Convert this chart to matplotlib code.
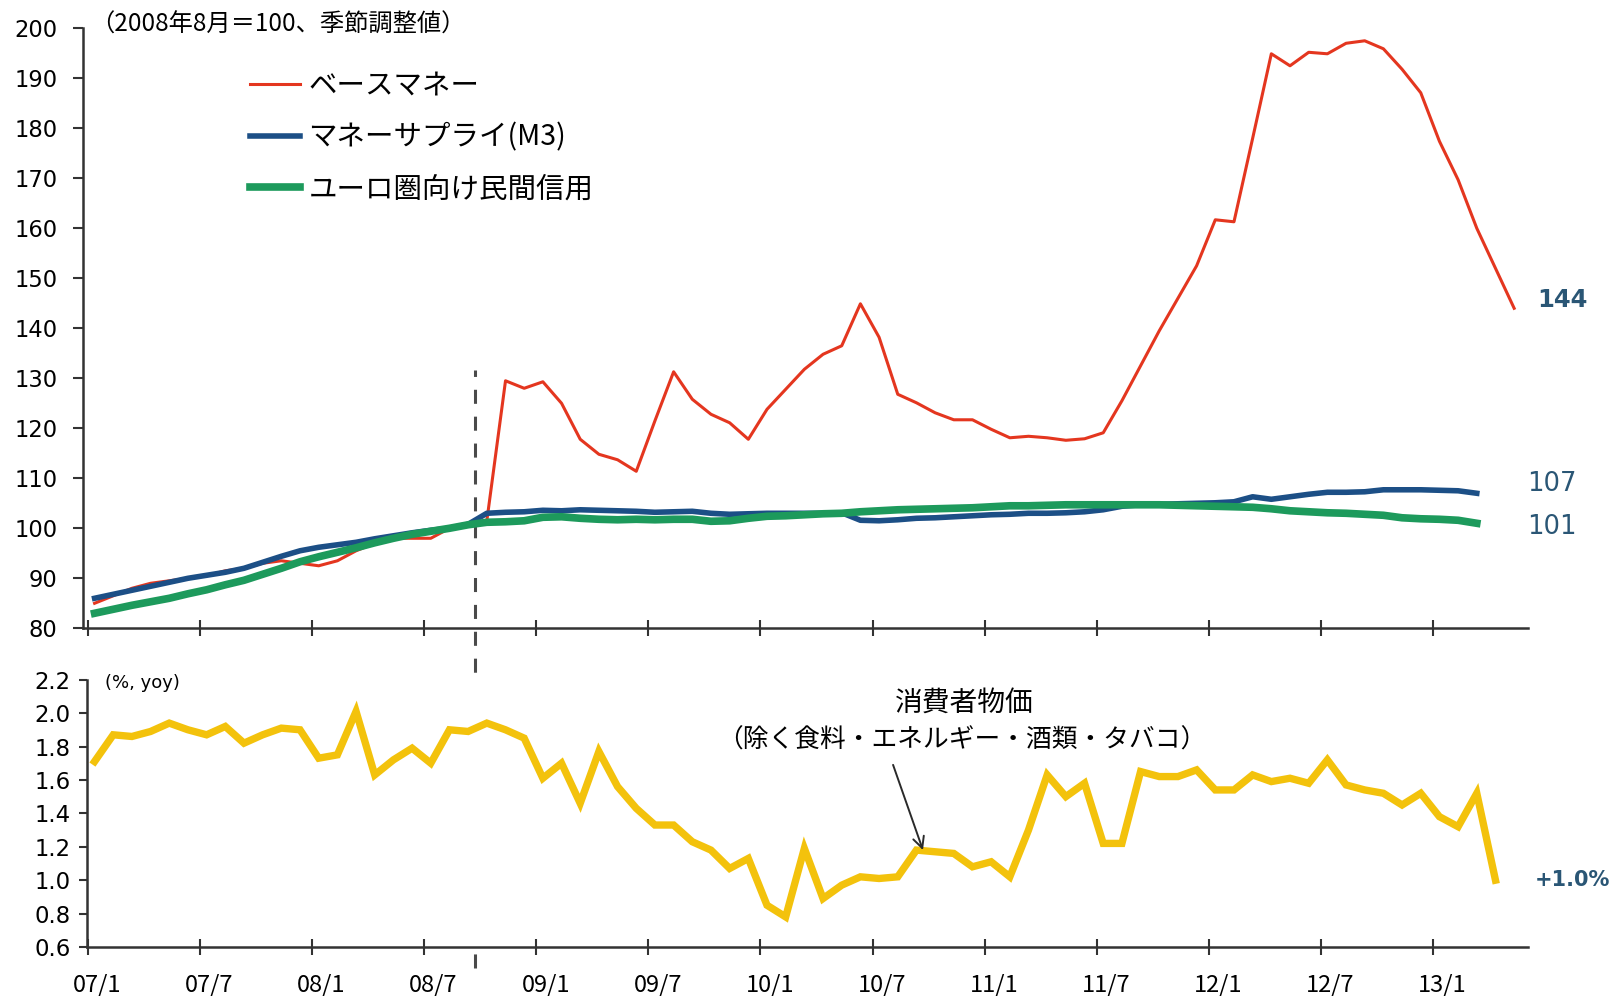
import numpy as np
import matplotlib.pyplot as plt
from matplotlib.ticker import FormatStrFormatter

plt.rcParams["font.family"] = ["DejaVu Sans"]
JP = ["Noto Sans CJK JP", "DejaVu Sans"]

# monthly series from 2007/1 (2008/8 = 100, seasonally adjusted)
base_money = [85, 86.5, 88, 89, 89.5, 90, 90.5, 91.5, 92, 93,
              93.5, 93, 92.5, 93.5, 95.5, 97, 98, 98, 98, 100,
              101, 101.5, 129.5, 128, 129.3, 125, 117.8, 114.8, 113.7, 111.4,
              121.5, 131.3, 125.8, 122.8, 121.1, 117.8, 123.8, 127.8, 131.8, 134.8,
              136.5, 144.9, 138.2, 126.8, 125.1, 123.1, 121.7, 121.7, 119.8, 118.1,
              118.4, 118.1, 117.6, 117.9, 119.1, 125.5, 132.5, 139.5, 146, 152.5,
              161.7, 161.3, 178, 194.9, 192.5, 195.2, 194.9, 197, 197.5, 195.9,
              191.8, 187.1, 177.4, 169.7, 160, 152, 144]
m3 = [86, 86.8, 87.6, 88.4, 89.2, 90, 90.6, 91.2, 92, 93.2,
      94.4, 95.5, 96.2, 96.7, 97.2, 97.9, 98.5, 99.1, 99.6, 100,
      100.8, 103, 103.2, 103.3, 103.6, 103.5, 103.7, 103.6, 103.5, 103.4,
      103.2, 103.3, 103.4, 103, 102.8, 102.9, 103, 103, 103, 103,
      103.1, 101.6, 101.5, 101.7, 102, 102.1, 102.3, 102.5, 102.7, 102.8,
      103, 103, 103.1, 103.3, 103.7, 104.4, 104.7, 104.8, 104.9, 105,
      105.1, 105.3, 106.3, 105.8, 106.3, 106.8, 107.2, 107.2, 107.3, 107.7,
      107.7, 107.7, 107.6, 107.5, 107]
private_credit = [83, 83.8, 84.6, 85.3, 86, 86.9, 87.7, 88.7, 89.6, 90.8,
                  92, 93.3, 94.3, 95.2, 96.1, 97.1, 98, 98.8, 99.4, 100,
                  100.7, 101.2, 101.3, 101.5, 102.2, 102.3, 102, 101.8, 101.7, 101.8,
                  101.7, 101.8, 101.8, 101.4, 101.5, 102, 102.4, 102.5, 102.7, 102.9,
                  103, 103.3, 103.5, 103.7, 103.8, 103.9, 104, 104.1, 104.3, 104.5,
                  104.5, 104.6, 104.7, 104.7, 104.7, 104.7, 104.7, 104.7, 104.6, 104.5,
                  104.4, 104.3, 104.2, 103.9, 103.5, 103.3, 103.1, 103, 102.8, 102.6,
                  102.1, 101.9, 101.8, 101.6, 101]
# core HICP, % yoy
core_cpi = [1.71, 1.87, 1.86, 1.89, 1.94, 1.90, 1.87, 1.92, 1.82, 1.87,
            1.91, 1.90, 1.73, 1.75, 2.01, 1.63, 1.72, 1.79, 1.70, 1.90,
            1.89, 1.94, 1.90, 1.85, 1.61, 1.70, 1.46, 1.77, 1.56, 1.43,
            1.33, 1.33, 1.23, 1.18, 1.07, 1.13, 0.85, 0.78, 1.19, 0.89,
            0.97, 1.02, 1.01, 1.02, 1.18, 1.17, 1.16, 1.08, 1.11, 1.02,
            1.30, 1.63, 1.50, 1.58, 1.22, 1.22, 1.65, 1.62, 1.62, 1.66,
            1.54, 1.54, 1.63, 1.59, 1.61, 1.58, 1.72, 1.57, 1.54, 1.52,
            1.45, 1.52, 1.38, 1.32, 1.52, 1.00]

tick_labels = ["07/1", "07/7", "08/1", "08/7", "09/1", "09/7", "10/1",
               "10/7", "11/1", "11/7", "12/1", "12/7", "13/1"]
names = ["ベースマネー", "マネーサプライ(M3)", "ユーロ圏向け民間信用"]
end_labels = ["144", "107", "101"]

RED, BLUE, GREEN, YELLOW = "#e4361f", "#1c4f86", "#1d9a5c", "#f3c20c"
LABEL_C = "#2a5675"
AXC = "#333333"


def months(vals):
    # points sit a little inside each month
    return np.arange(len(vals)) + 0.35


fig = plt.figure(figsize=(16.14, 9.96), dpi=100)
ax1 = fig.add_axes([0.0512, 0.3692, 0.8955, 0.6024])
ax2 = fig.add_axes([0.0539, 0.0492, 0.8928, 0.2684])

ax1.plot(months(base_money), base_money, color=RED, lw=2.2, zorder=2, label=names[0])
ax1.plot(months(m3), m3, color=BLUE, lw=4, zorder=3, label=names[1])
ax1.plot(months(private_credit), private_credit, color=GREEN, lw=5.5, zorder=4,
         label=names[2])

ax1.set_xlim(-0.29, 77.09)
ax1.set_ylim(80, 200)
ax1.set_yticks(range(80, 201, 10))
ax1.set_xticks(range(0, 73, 6))
ax1.set_xticklabels([])
ax1.tick_params(axis="x", direction="inout", length=12, width=1.5, color=AXC)
ax1.tick_params(axis="y", direction="out", length=7, width=1.5, color=AXC,
                labelsize=16.3, pad=11)

leg = ax1.legend(loc="upper left", bbox_to_anchor=(0.1158, 0.929), frameon=False,
                 prop={"family": JP, "size": 20.5}, handlelength=1.75,
                 handletextpad=0.3, labelspacing=0.76, borderpad=0,
                 borderaxespad=0)

ax1.text(0.005, 1.006, "（2008年8月＝100、季節調整値）", transform=ax1.transAxes,
         family=JP, fontsize=17.5, va="center", ha="left")

# end-of-series values
ax1.text(months(base_money)[-1] + 1.25, base_money[-1] + 1.6, end_labels[0],
         color=LABEL_C, fontsize=17.5, fontweight="bold", va="center")
ax1.text(77.06, m3[-1] + 1.9, end_labels[1], color=LABEL_C, fontsize=18.5, va="center")
ax1.text(77.06, private_credit[-1] - 0.7, end_labels[2], color=LABEL_C,
         fontsize=18.5, va="center")

# Lehman line, running across both panels
ax1.axvline(20.7, ymin=-0.566, ymax=0.43, clip_on=False, color="#4a4a4a", lw=2.2,
            ls=(0, (4.6, 4.2)), zorder=1)

ax2.plot(months(core_cpi), core_cpi, color=YELLOW, lw=5.3, solid_joinstyle="miter")
ax2.set_xlim(-0.054, 77.09)
ax2.set_ylim(0.6, 2.2)
ax2.set_yticks(np.arange(0.6, 2.21, 0.2))
ax2.yaxis.set_major_formatter(FormatStrFormatter("%.1f"))
ax2.set_xticks(range(0, 73, 6))
ax2.set_xticklabels([])
ax2.set_xticks(np.arange(0, 73, 6) + 0.5, minor=True)
ax2.set_xticklabels(tick_labels, minor=True, family=JP, fontsize=17)
ax2.tick_params(axis="x", which="major", direction="inout", length=11, width=1.5,
                color=AXC)
ax2.tick_params(axis="x", which="minor", length=0, pad=19)
ax2.tick_params(axis="y", direction="out", length=6, width=1.5, color=AXC,
                labelsize=16.4, pad=6)

ax2.text(0.0125, 0.988, "(%, yoy)", transform=ax2.transAxes, fontsize=13,
         va="center", ha="left")
ax2.text(46.9, 2.06, "消費者物価", family=JP, fontsize=20, ha="center", va="center")
ax2.text(46.8, 1.836, "（除く食料・エネルギー・酒類・タバコ）", family=JP, fontsize=18.5,
         ha="center", va="center")
ax2.annotate("", xy=(months(core_cpi)[44] + 0.35, core_cpi[44]), xytext=(43.1, 1.69),
             arrowprops=dict(arrowstyle="->", color="#2a2a2a", lw=1.4,
                             mutation_scale=20, shrinkA=0, shrinkB=0))
ax2.text(77.45, core_cpi[-1], "+1.0%", color=LABEL_C, fontsize=15,
         fontweight="bold", va="center")

for ax in (ax1, ax2):
    for side in ("top", "right"):
        ax.spines[side].set_visible(False)
    for side in ("left", "bottom"):
        ax.spines[side].set_color(AXC)
        ax.spines[side].set_linewidth(1.8)

fig.savefig("out.png", dpi=100)
